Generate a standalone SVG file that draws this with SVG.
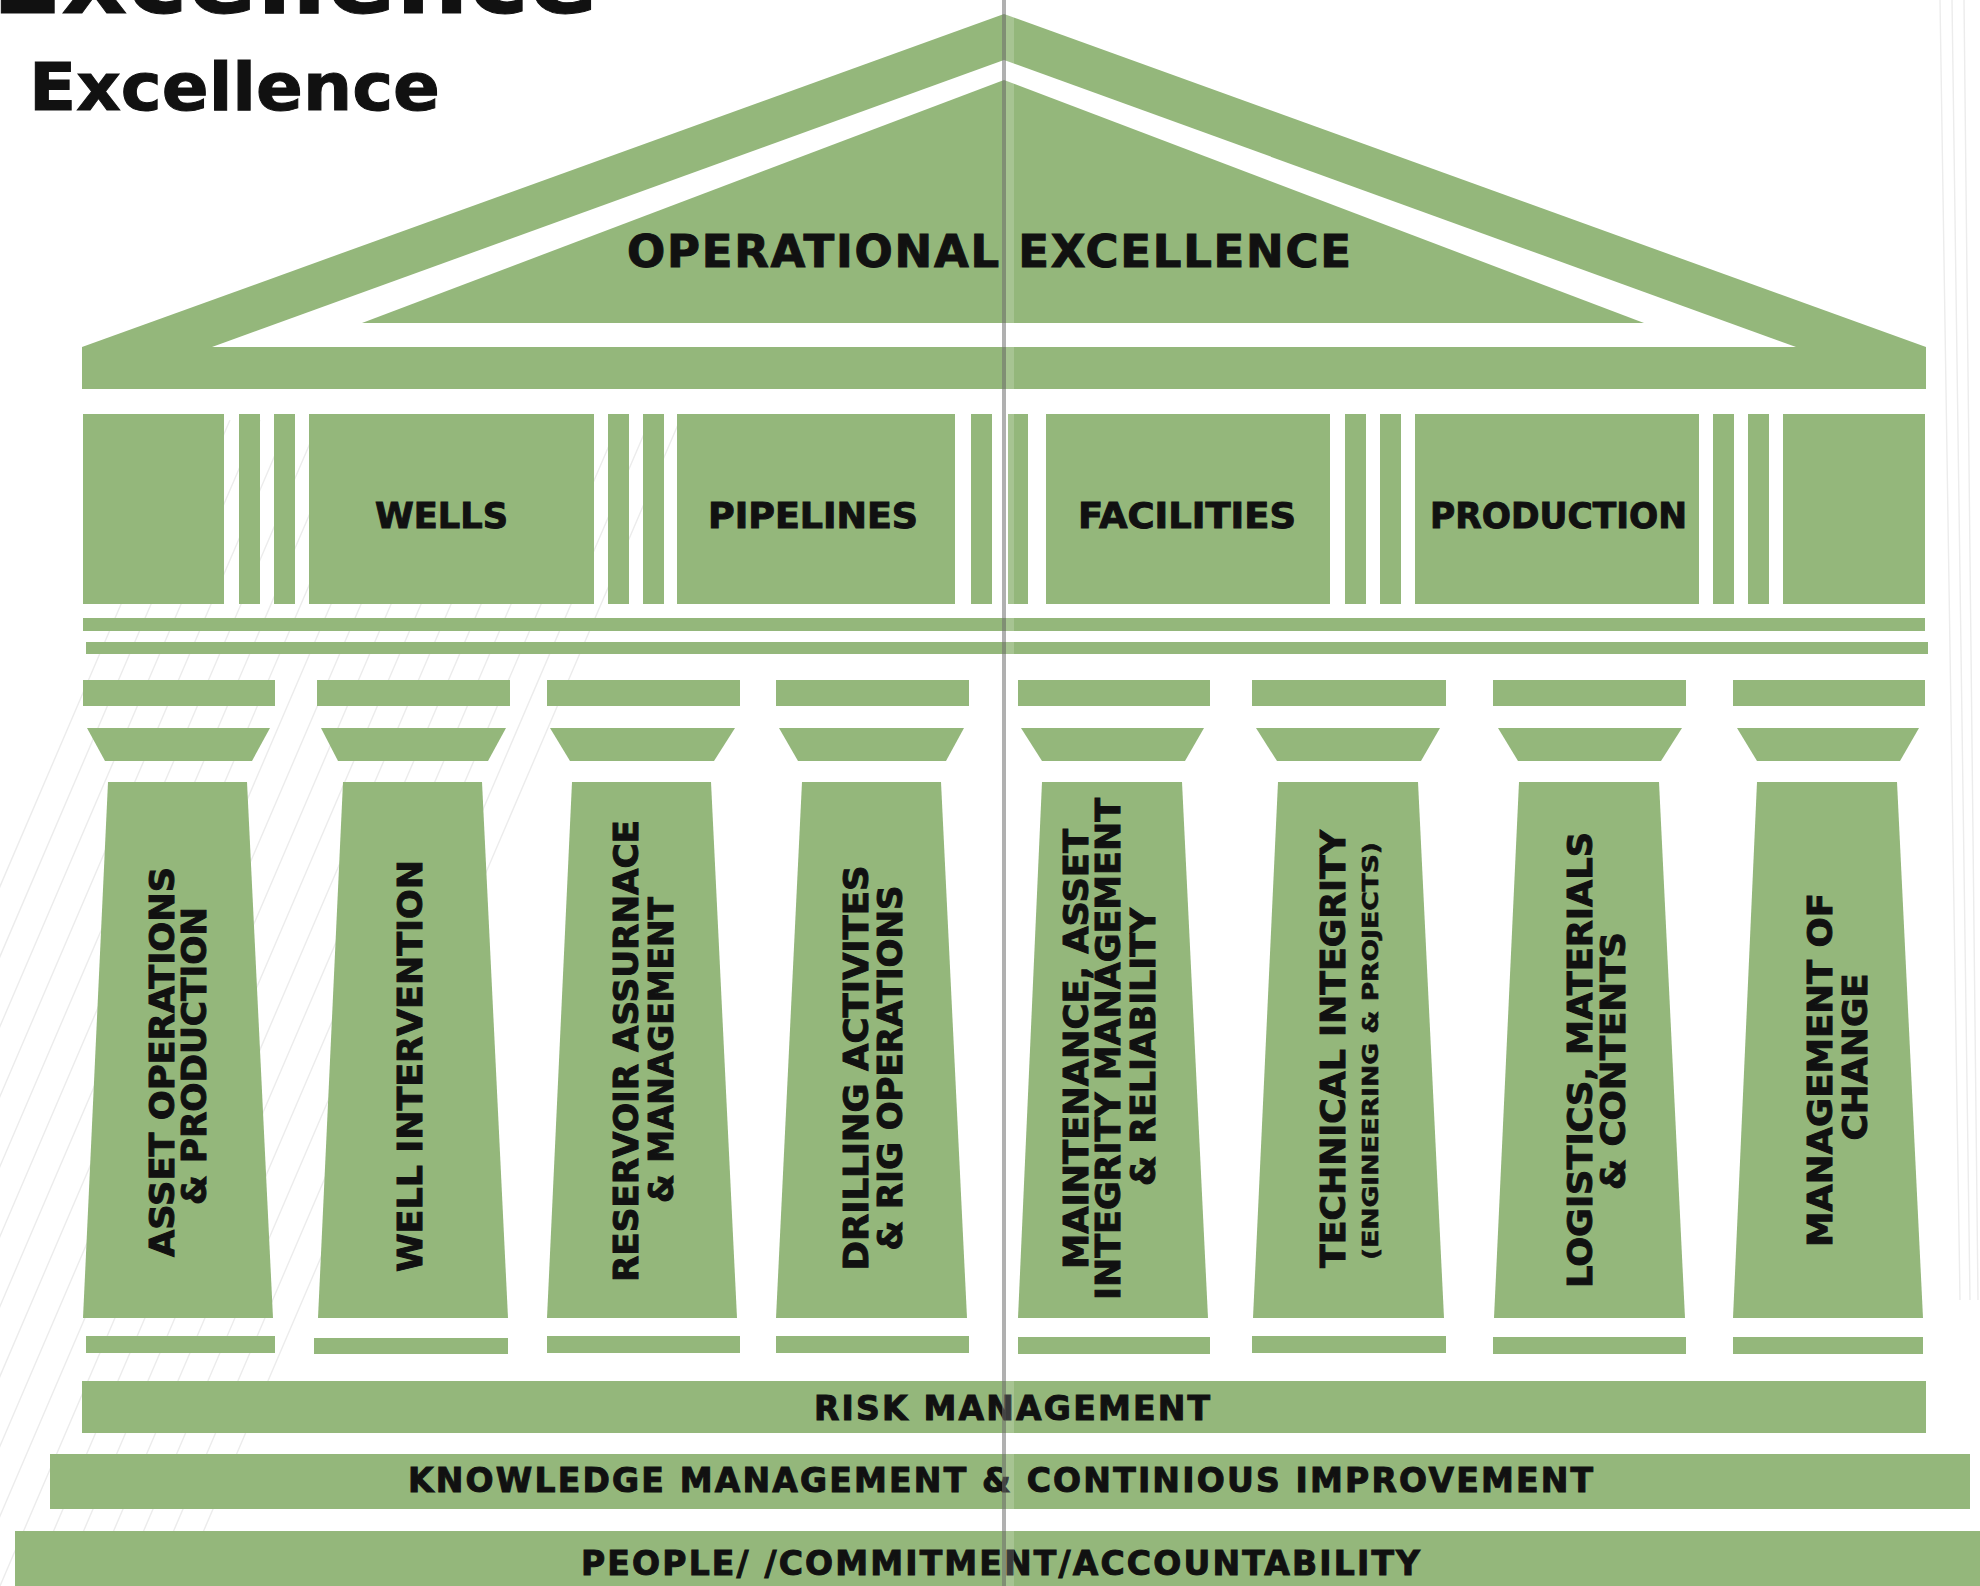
<svg xmlns="http://www.w3.org/2000/svg" width="1980" height="1586" viewBox="0 0 1980 1586">
<defs>
<style>
.g{fill:#94b77b}
.t{font-family:"DejaVu Sans","Liberation Sans",Arial,sans-serif;font-weight:bold;fill:#111;stroke:#111;stroke-width:1;text-anchor:middle}
.h{font-size:35px}
.b{font-size:33px}
.v{font-size:33px}
.vs{font-size:22px;stroke-width:0.6}
.hat{stroke:#ececec;stroke-width:1.4;fill:none}
</style>
<clipPath id="hc"><rect x="0" y="420" width="720" height="1166"/></clipPath>
</defs>
<rect x="0" y="0" width="1980" height="1586" fill="#ffffff"/>
<g id="background-hatching" clip-path="url(#hc)">
<path class="hat" d="M-300 1586 L200 420 M-270 1586 L230 420 M-240 1586 L260 420 M-210 1586 L290 420 M-180 1586 L320 420 M-150 1586 L350 420 M-120 1586 L380 420 M-90 1586 L410 420 M-60 1586 L440 420 M-30 1586 L470 420 M0 1586 L500 420 M30 1586 L530 420 M60 1586 L560 420 M90 1586 L590 420 M120 1586 L620 420 M150 1586 L650 420 M180 1586 L680 420"/>
</g>
<g id="background-right">
<path class="hat" d="M1940 0 L1960 1300 M1952 0 L1970 1300 M1964 0 L1978 1300"/>
</g>

<g id="title">
<text class="t" x="-8" y="13" style="font-size:96px;text-anchor:start" textLength="606" lengthAdjust="spacingAndGlyphs">Excellence</text>
<text class="t" x="29" y="110" style="font-size:65px;text-anchor:start" textLength="411" lengthAdjust="spacingAndGlyphs">Excellence</text>
</g>

<g id="roof">
<polygon class="g" points="1004,14 1926,347 1926,389 82,389 82,347"/>
<polygon fill="#ffffff" points="1004,60 1796,347 212,347"/>
<polygon class="g" points="1004,80 1644,323 362,323"/>
<text class="t" x="989" y="267" style="font-size:45px" textLength="724" lengthAdjust="spacing">OPERATIONAL EXCELLENCE</text>
</g>

<g id="frieze">
<rect class="g" x="83" y="414" width="141" height="190"/>
<rect class="g" x="239" y="414" width="21" height="190"/>
<rect class="g" x="274" y="414" width="21" height="190"/>
<g id="wells"><rect class="g" x="309" y="414" width="285" height="190"/>
<text class="t h" x="441.5" y="528" textLength="133" lengthAdjust="spacingAndGlyphs">WELLS</text></g>
<rect class="g" x="608" y="414" width="21" height="190"/>
<rect class="g" x="643" y="414" width="21" height="190"/>
<g id="pipelines"><rect class="g" x="677" y="414" width="278" height="190"/>
<text class="t h" x="813" y="528" textLength="210" lengthAdjust="spacingAndGlyphs">PIPELINES</text></g>
<rect class="g" x="971" y="414" width="21" height="190"/>
<rect class="g" x="1008" y="414" width="20" height="190"/>
<g id="facilities"><rect class="g" x="1046" y="414" width="284" height="190"/>
<text class="t h" x="1187" y="528" textLength="218" lengthAdjust="spacingAndGlyphs">FACILITIES</text></g>
<rect class="g" x="1345" y="414" width="21" height="190"/>
<rect class="g" x="1380" y="414" width="21" height="190"/>
<g id="production"><rect class="g" x="1415" y="414" width="284" height="190"/>
<text class="t h" x="1558.5" y="528" textLength="257" lengthAdjust="spacingAndGlyphs">PRODUCTION</text></g>
<rect class="g" x="1713" y="414" width="21" height="190"/>
<rect class="g" x="1748" y="414" width="21" height="190"/>
<rect class="g" x="1783" y="414" width="142" height="190"/>
<rect class="g" x="83" y="618" width="1842" height="13"/>
<rect class="g" x="86" y="642" width="1842" height="12"/>
</g>

<g id="col-asset-operations">
<rect class="g" x="83" y="680" width="192" height="26"/>
<polygon class="g" points="87,728 270,728 252,761 105,761"/>
<polygon class="g" points="108,782 247,782 273,1318 83,1318"/>
<rect class="g" x="86" y="1336" width="189" height="17"/>
<text class="t v" transform="translate(174,1062) rotate(-90)" textLength="390" lengthAdjust="spacingAndGlyphs">ASSET OPERATIONS</text>
<text class="t v" transform="translate(206,1056) rotate(-90)" textLength="298" lengthAdjust="spacingAndGlyphs">&amp; PRODUCTION</text>
</g>
<g id="col-well-intervention">
<rect class="g" x="317" y="680" width="193" height="26"/>
<polygon class="g" points="321,728 506,728 488,761 338,761"/>
<polygon class="g" points="343,782 482,782 508,1318 318,1318"/>
<rect class="g" x="314" y="1338" width="194" height="16"/>
<text class="t v" transform="translate(422,1066) rotate(-90)" textLength="412" lengthAdjust="spacingAndGlyphs">WELL INTERVENTION</text>
</g>
<g id="col-reservoir">
<rect class="g" x="547" y="680" width="193" height="26"/>
<polygon class="g" points="550,728 735,728 714,761 570,761"/>
<polygon class="g" points="572,782 711,782 737,1318 547,1318"/>
<rect class="g" x="547" y="1336" width="193" height="17"/>
<text class="t v" transform="translate(638,1051) rotate(-90)" textLength="462" lengthAdjust="spacingAndGlyphs">RESERVOIR ASSURNACE</text>
<text class="t v" transform="translate(673,1050) rotate(-90)" textLength="306" lengthAdjust="spacingAndGlyphs">&amp; MANAGEMENT</text>
</g>
<g id="col-drilling">
<rect class="g" x="776" y="680" width="193" height="26"/>
<polygon class="g" points="779,728 964,728 946,761 798,761"/>
<polygon class="g" points="802,782 941,782 967,1318 776,1318"/>
<rect class="g" x="776" y="1336" width="193" height="17"/>
<text class="t v" transform="translate(868,1068) rotate(-90)" textLength="405" lengthAdjust="spacingAndGlyphs">DRILLING ACTIVITES</text>
<text class="t v" transform="translate(902,1068) rotate(-90)" textLength="365" lengthAdjust="spacingAndGlyphs">&amp; RIG OPERATIONS</text>
</g>
<g id="col-maintenance">
<rect class="g" x="1018" y="680" width="192" height="26"/>
<polygon class="g" points="1021,728 1204,728 1185,761 1042,761"/>
<polygon class="g" points="1042,782 1182,782 1208,1318 1018,1318"/>
<rect class="g" x="1018" y="1337" width="192" height="17"/>
<text class="t v" transform="translate(1088,1049) rotate(-90)" textLength="440" lengthAdjust="spacingAndGlyphs">MAINTENANCE, ASSET</text>
<text class="t v" transform="translate(1120,1049) rotate(-90)" textLength="502" lengthAdjust="spacingAndGlyphs">INTEGRITY MANAGEMENT</text>
<text class="t v" transform="translate(1155,1047) rotate(-90)" textLength="278" lengthAdjust="spacingAndGlyphs">&amp; RELIABILITY</text>
</g>
<g id="col-technical-integrity">
<rect class="g" x="1252" y="680" width="194" height="26"/>
<polygon class="g" points="1256,728 1440,728 1421,761 1277,761"/>
<polygon class="g" points="1278,782 1418,782 1444,1318 1253,1318"/>
<rect class="g" x="1252" y="1336" width="194" height="17"/>
<text class="t v" transform="translate(1345,1049) rotate(-90)" textLength="438" lengthAdjust="spacingAndGlyphs">TECHNICAL INTEGRITY</text>
<text class="t vs" transform="translate(1378,1051) rotate(-90)" textLength="418" lengthAdjust="spacingAndGlyphs">(ENGINEERING &amp; PROJECTS)</text>
</g>
<g id="col-logistics">
<rect class="g" x="1493" y="680" width="193" height="26"/>
<polygon class="g" points="1498,728 1682,728 1661,761 1518,761"/>
<polygon class="g" points="1519,782 1659,782 1685,1318 1494,1318"/>
<rect class="g" x="1493" y="1337" width="193" height="17"/>
<text class="t v" transform="translate(1592,1060) rotate(-90)" textLength="456" lengthAdjust="spacingAndGlyphs">LOGISTICS, MATERIALS</text>
<text class="t v" transform="translate(1625,1061) rotate(-90)" textLength="258" lengthAdjust="spacingAndGlyphs">&amp; CONTENTS</text>
</g>
<g id="col-management-of-change">
<rect class="g" x="1733" y="680" width="192" height="26"/>
<polygon class="g" points="1737,728 1919,728 1900,761 1757,761"/>
<polygon class="g" points="1757,782 1897,782 1923,1318 1733,1318"/>
<rect class="g" x="1733" y="1337" width="190" height="17"/>
<text class="t v" transform="translate(1832,1070) rotate(-90)" textLength="354" lengthAdjust="spacingAndGlyphs">MANAGEMENT OF</text>
<text class="t v" transform="translate(1867,1057) rotate(-90)" textLength="167" lengthAdjust="spacingAndGlyphs">CHANGE</text>
</g>

<g id="risk-management">
<rect class="g" x="82" y="1381" width="1844" height="52"/>
<text class="t b" x="1012" y="1420" textLength="396" lengthAdjust="spacing">RISK MANAGEMENT</text>
</g>
<g id="knowledge-management">
<rect class="g" x="50" y="1454" width="1920" height="55"/>
<text class="t b" x="1000.5" y="1492" textLength="1185" lengthAdjust="spacing">KNOWLEDGE MANAGEMENT &amp; CONTINIOUS IMPROVEMENT</text>
</g>
<g id="people-commitment">
<rect class="g" x="15" y="1531" width="1965" height="55"/>
<text class="t b" x="1000.5" y="1575" textLength="839" lengthAdjust="spacing">PEOPLE/ /COMMITMENT/ACCOUNTABILITY</text>
</g>

<g id="connectors"></g>

<g id="page-fold">
<rect x="1002" y="0" width="4" height="1586" fill="#6f6f6f" opacity="0.55"/>
<rect x="1006" y="0" width="8" height="1586" fill="#ffffff" opacity="0.18"/>
</g>
</svg>
